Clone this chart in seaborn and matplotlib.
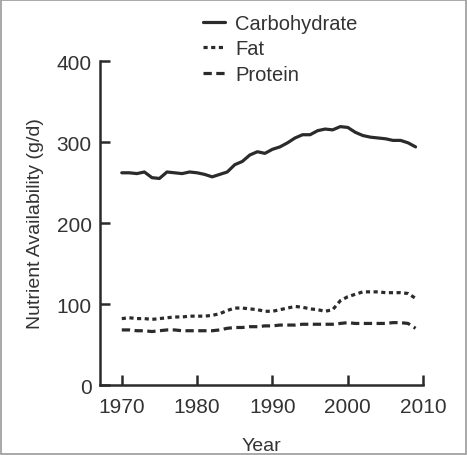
import pandas as pd
import numpy as np
import matplotlib.pyplot as plt
import seaborn as sns
from matplotlib.patches import Rectangle

# Données (g/jour)
years = list(range(1970, 2010))
carbohydrate = [262, 262, 261, 263, 256, 255, 263, 262, 261, 263,
                262, 260, 257, 260, 263, 272, 276, 284, 288, 286,
                291, 294, 299, 305, 309, 309, 314, 316, 315, 319,
                318, 312, 308, 306, 305, 304, 302, 302, 299, 294]
fat = [82, 83, 82, 82, 81, 82, 83, 84, 84, 85,
       85, 85, 86, 88, 92, 95, 95, 94, 93, 91,
       91, 93, 95, 97, 96, 94, 93, 91, 93, 104,
       109, 112, 115, 115, 115, 114, 114, 114, 113, 107]
protein = [68, 68, 67, 67, 66, 67, 68, 68, 67, 67,
           67, 67, 67, 68, 70, 71, 71, 72, 72, 73,
           73, 74, 74, 74, 75, 75, 75, 75, 75, 76,
           77, 76, 76, 76, 76, 76, 77, 77, 76, 70]
nutrients = ["Carbohydrate", "Fat", "Protein"]

df = pd.DataFrame({"Year": years, "Carbohydrate": carbohydrate,
                   "Fat": fat, "Protein": protein})
df = df.melt(id_vars="Year", var_name="Nutrient", value_name="Value")

sns.set_style("ticks")
plt.rcParams["font.family"] = ["Liberation Sans", "DejaVu Sans"]

ink = "#2b2b2b"
txt = "#333333"
fig = plt.figure(figsize=(4.67, 4.56), dpi=100)
ax = fig.add_axes([0.214, 0.1535, 0.692, 0.7105])

sns.lineplot(data=df, x="Year", y="Value", hue="Nutrient", style="Nutrient",
             hue_order=nutrients, style_order=nutrients,
             palette=[ink, ink, ink],
             dashes={"Carbohydrate": "", "Fat": (1.3, 1.1), "Protein": (2.6, 1.4)},
             linewidth=2.3, ax=ax)

ax.set_xlim(1967.1, 2010)
ax.set_ylim(0, 400)
ax.set_xticks([1970, 1980, 1990, 2000, 2010])
ax.set_yticks([0, 100, 200, 300, 400])
ax.tick_params(direction="in", length=7, width=1.8, color=ink,
               labelsize=15, labelcolor=txt)
ax.tick_params(axis="x", pad=8.5)
ax.tick_params(axis="y", pad=6)
for side in ["left", "bottom"]:
    ax.spines[side].set_linewidth(1.8)
    ax.spines[side].set_color(ink)
sns.despine(ax=ax)

ax.set_xlabel("Year", fontsize=14, color=txt, labelpad=15)
ax.set_ylabel("Nutrient Availability (g/d)", fontsize=14, color=txt, labelpad=9)

handles, labels = ax.get_legend_handles_labels()
ax.legend(handles, labels, loc="upper left", bbox_to_anchor=(0.413, 0.99),
          bbox_transform=fig.transFigure, frameon=False, fontsize=14.5,
          handlelength=1.1, handletextpad=0.5, labelspacing=0.33, borderpad=0,
          labelcolor=txt)

# cadre gris autour de l'image
fig.patches.append(Rectangle((0.002, 0.002), 0.996, 0.996, transform=fig.transFigure,
                             fill=False, edgecolor="#999999", linewidth=1.2))

plt.savefig("out.png", dpi=100)
